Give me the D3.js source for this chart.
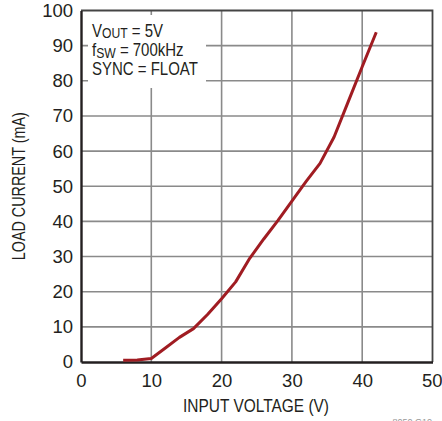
<!DOCTYPE html>
<html><head><meta charset="utf-8">
<script src="https://cdn.jsdelivr.net/npm/d3@7"></script>
<style>
html,body{margin:0;padding:0;background:#fff;}
svg{display:block;}
text{font-family:"Liberation Sans",Arial,sans-serif;fill:#231f20;}
</style></head>
<body>
<svg id="c" width="442" height="421"></svg>
<script>
const inputVoltage = [6, 8, 10, 12, 14, 16, 18, 20, 22, 24, 26, 28, 30, 32, 34, 36, 38, 40, 42];
const loadCurrent  = [0.5, 0.6, 1.0, 4.0, 7.0, 9.5, 13.5, 18.0, 22.8, 29.5, 35.0, 40.2, 45.8, 51.3, 56.5, 64.0, 74.0, 84.0, 93.8];
const xTicks = [0, 10, 20, 30, 40, 50];
const yTicks = [0, 10, 20, 30, 40, 50, 60, 70, 80, 90, 100];
const xTitle = "INPUT VOLTAGE (V)";
const yTitle = "LOAD CURRENT (mA)";

const svg = d3.select("#c");
const L = 81, R = 432.5, T = 10.5, B = 362;
const x = d3.scaleLinear().domain([0, 50]).range([L, R]);
const y = d3.scaleLinear().domain([0, 100]).range([B, T]);

// grid
const g = svg.append("g");
g.selectAll("line.gx").data(xTicks.slice(1, -1)).join("line")
  .attr("x1", d => x(d)).attr("x2", d => x(d)).attr("y1", T).attr("y2", B)
  .attr("stroke", "#8a8a8a").attr("stroke-width", 1.6);
g.selectAll("line.gy").data(yTicks.slice(1, -1)).join("line")
  .attr("x1", L).attr("x2", R).attr("y1", d => y(d)).attr("y2", d => y(d))
  .attr("stroke", "#8a8a8a").attr("stroke-width", 1.6);
// top/right border
svg.append("path").attr("d", `M${L},${T}H${R}V${B}`).attr("fill", "none")
  .attr("stroke", "#444").attr("stroke-width", 1.8);

// axes (D3 axis, styled)
const xa = svg.append("g").attr("transform", `translate(0,${B})`)
  .call(d3.axisBottom(x).tickValues(xTicks).tickSize(0).tickPadding(12));
const ya = svg.append("g").attr("transform", `translate(${L},0)`)
  .call(d3.axisLeft(y).tickValues(yTicks).tickSize(0).tickPadding(8));
[xa, ya].forEach(a => {
  a.select(".domain").attr("stroke", "#231f20").attr("stroke-width", 2.4);
  a.selectAll("text").attr("font-size", 18.5).attr("fill", "#231f20")
    .style("font-family", '"Liberation Sans",Arial,sans-serif');
});
xa.selectAll("text").attr("dy", "0.71em");
xa.selectAll(".tick").filter(d => d === 50).select("text").attr("text-anchor", "end").attr("x", 9.5);

// annotation box
svg.append("rect").attr("x", 88).attr("y", 15).attr("width", 118).attr("height", 73).attr("fill", "#fff");
const ann = svg.append("g").attr("font-size", 18.5).attr("transform", "translate(92,0) scale(0.81,1)");
const t1 = ann.append("text").attr("x", 0).attr("y", 37);
t1.append("tspan").text("V");
t1.append("tspan").attr("font-size", 15).attr("dy", 1.5).text("OUT");
t1.append("tspan").attr("dy", -1.5).text(" = 5V");
const t2 = ann.append("text").attr("x", 0).attr("y", 56.5);
t2.append("tspan").text("f");
t2.append("tspan").attr("font-size", 15).attr("dy", 1.5).text("SW");
t2.append("tspan").attr("dy", -1.5).text(" = 700kHz");
ann.append("text").attr("x", 0).attr("y", 75.5).text("SYNC = FLOAT");

// curve
const pts = inputVoltage.map((v, i) => [v, loadCurrent[i]]);
svg.append("path").datum(pts)
  .attr("d", d3.line().x(d => x(d[0])).y(d => y(d[1])))
  .attr("fill", "none").attr("stroke", "#a01c22").attr("stroke-width", 3)
  .attr("stroke-linejoin", "round");

// titles
svg.append("text").attr("x", 256).attr("y", 411.5).attr("text-anchor", "middle")
  .attr("font-size", 18.5).attr("textLength", 146).attr("lengthAdjust", "spacingAndGlyphs").text(xTitle);
svg.append("text").attr("transform", `translate(25,${(T + B) / 2}) rotate(-90)`)
  .attr("text-anchor", "middle").attr("font-size", 18.5)
  .attr("textLength", 148).attr("lengthAdjust", "spacingAndGlyphs").text(yTitle);

// partial figure id at bottom edge
svg.append("text").attr("x", 432).attr("y", 425).attr("text-anchor", "end")
  .attr("font-size", 9).style("fill", "#999").text("8050 G10");
</script>
</body></html>
